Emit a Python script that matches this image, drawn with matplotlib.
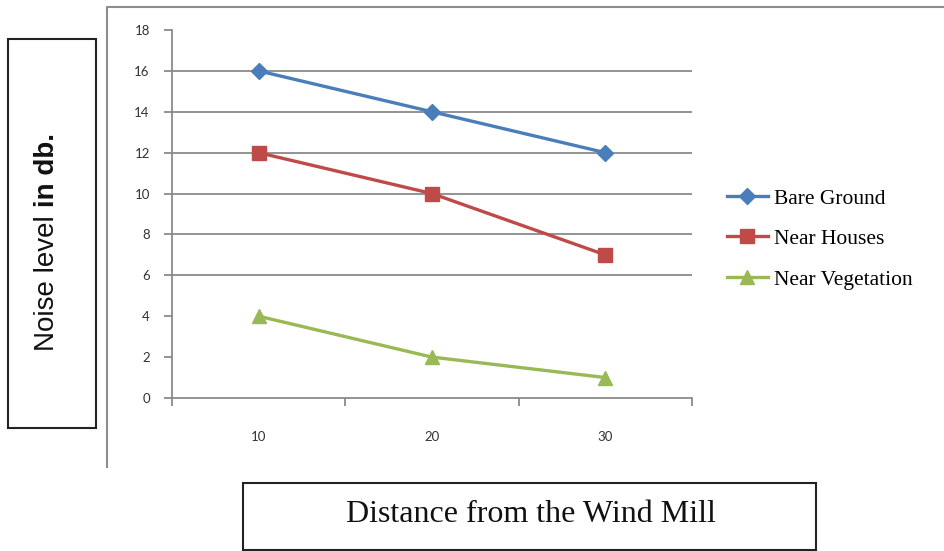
import matplotlib
matplotlib.use("Agg")
import matplotlib.pyplot as plt
from matplotlib.lines import Line2D
from matplotlib.patches import Rectangle

# data
distances = ['10', '20', '30']
bare_ground = [16, 14, 12]
near_houses = [12, 10, 7]
near_vegetation = [4, 2, 1]
y_ticks = [0, 2, 4, 6, 8, 10, 12, 14, 16, 18]
grid_levels = [6, 8, 10, 12, 14, 16]

W, H = 944, 551
fig = plt.figure(figsize=(W / 100, H / 100), dpi=100)

def fx(px):
    return px / W

def fy(py):
    return 1 - py / H

# outer chart-area border (only top and left visible)
fig.add_artist(Line2D([fx(107), fx(107), 1.0], [fy(467), fy(7), fy(7)],
                      transform=fig.transFigure, color='#8c8c8c', lw=1.5))

ax = fig.add_axes([fx(172), fy(398), fx(692) - fx(172), fy(30) - fy(398)])

pos = list(range(1, len(distances) + 1))
ax.plot(pos, bare_ground, color='#4A7EBB', lw=2.4, marker='D', ms=8,
        label='Bare Ground', zorder=3)
ax.plot(pos, near_houses, color='#BE4B48', lw=2.4, marker='s', ms=10,
        label='Near Houses', zorder=3)
ax.plot(pos, near_vegetation, color='#98B954', lw=2.4, marker='^', ms=10,
        label='Near Vegetation', zorder=3)

for g in grid_levels:
    ax.axhline(g, color='#8a8a8a', lw=1.3, zorder=1)

ax.set_xlim(0.5, len(distances) + 0.5)
ax.set_ylim(0, 18)
ax.set_yticks(y_ticks)
ax.set_yticklabels([str(v) for v in y_ticks], fontfamily='Lato',
                   fontsize=9.5, color='#333333')
ax.set_xticks(pos)
ax.set_xticklabels(distances, fontfamily='Lato', fontsize=9.5, color='#333333')
ax.set_xticks([0.5 + i for i in range(len(distances) + 1)], minor=True)

for s in ['top', 'right']:
    ax.spines[s].set_visible(False)
for s in ['left', 'bottom']:
    ax.spines[s].set_color('#8a8a8a')
    ax.spines[s].set_linewidth(1.3)

ax.tick_params(axis='y', direction='out', length=6, width=1.3,
               color='#8a8a8a', pad=10)
ax.tick_params(axis='x', which='major', length=0, pad=24)
ax.tick_params(axis='x', which='minor', direction='out', length=6,
               width=1.3, color='#8a8a8a')

ax.legend(loc='center left', bbox_to_anchor=(fx(727), fy(239)),
          bbox_transform=fig.transFigure, frameon=False, borderpad=0,
          borderaxespad=0, handlelength=1.9, handletextpad=0.3,
          labelspacing=0.95, prop={'family': 'Liberation Serif', 'size': 15.5})

# y label box
fig.add_artist(Rectangle((fx(8), fy(428)), fx(96) - fx(8), fy(39) - fy(428),
                         transform=fig.transFigure, fill=False,
                         edgecolor='#222222', lw=1.5))
fig.text(fx(54), fy(207), 'Noise level ', rotation=90, rotation_mode='anchor',
         ha='right', va='baseline', fontfamily='Liberation Sans',
         fontsize=20, color='#111111')
fig.text(fx(54), fy(207), 'in db.', rotation=90, rotation_mode='anchor',
         ha='left', va='baseline', fontfamily='Liberation Sans',
         fontsize=20, fontweight='bold', color='#111111')

# x label box
fig.add_artist(Rectangle((fx(243), fy(550)), fx(816) - fx(243), fy(483) - fy(550),
                         transform=fig.transFigure, fill=False,
                         edgecolor='#222222', lw=1.5))
fig.text(fx(531), fy(515), 'Distance from the Wind Mill', ha='center',
         va='center', fontfamily='Liberation Serif', fontsize=23,
         color='#111111')

fig.savefig('out.png', dpi=100)
